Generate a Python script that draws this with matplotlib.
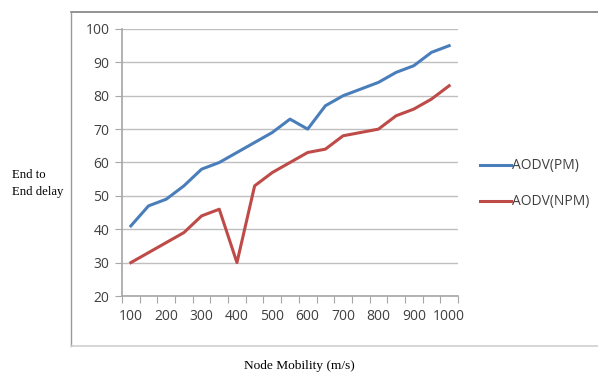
import matplotlib.pyplot as plt
from matplotlib.lines import Line2D

# Node mobility categories (m/s)
mobility = [100, 150, 200, 250, 300, 350, 400, 450, 500, 550,
            600, 650, 700, 750, 800, 850, 900, 950, 1000]
delay_pm = [41, 47, 49, 53, 58, 60, 63, 66, 69, 73,
            70, 77, 80, 82, 84, 87, 89, 93, 95]
delay_npm = [30, 33, 36, 39, 44, 46, 30, 53, 57, 60,
             63, 64, 68, 69, 70, 74, 76, 79, 83]
tick_labels = ["100", "200", "300", "400", "500", "600", "700", "800", "900", "1000"]

W, H = 598, 373
fig = plt.figure(figsize=(W / 100, H / 100), dpi=100)
fig.patch.set_facecolor("white")


def fline(x0, y0, x1, y1, color, lw):
    # line in pixel coords (origin top-left)
    fig.add_artist(Line2D([x0 / W, x1 / W], [1 - y0 / H, 1 - y1 / H],
                          transform=fig.transFigure, color=color, linewidth=lw))


# outer chart frame (no right edge visible)
fline(70.5, 11.5, 598, 11.5, "#808080", 1.2)
fline(70.5, 11.5, 70.5, 346, "#9a9a9a", 1.0)
fline(70.5, 346, 598, 346, "#d0d0d0", 1.2)

ax = fig.add_axes([122 / W, 1 - 296 / H, (458 - 122) / W, (296 - 29) / H])
x = list(range(len(mobility)))
ax.plot(x, delay_pm, color="#4a7ebb", linewidth=2.2, label="AODV(PM)")
ax.plot(x, delay_npm, color="#be4b48", linewidth=2.2, label="AODV(NPM)")

ax.set_xlim(-0.5, len(mobility) - 0.5)
ax.set_ylim(20, 100)
ax.set_yticks(range(20, 101, 10))
ax.yaxis.grid(True, color="#bfbfbf", linewidth=1.0)
ax.set_axisbelow(True)

# category axis: ticks between categories, labels on every other point
ax.set_xticks([i - 0.5 for i in range(len(mobility) + 1)])
ax.set_xticklabels([])
ax.set_xticks(x[::2], minor=True)
ax.set_xticklabels(tick_labels, minor=True)
ax.tick_params(axis="x", which="minor", length=0, pad=9)
ax.tick_params(axis="x", which="major", length=5, color="#a6a6a6", direction="out")
ax.tick_params(axis="y", length=5, color="#a6a6a6", pad=4)
for lab in ax.get_xticklabels(minor=True) + ax.get_yticklabels():
    lab.set_fontsize(10)
    lab.set_color("#404040")
    lab.set_family("Open Sans")

for s in ["top", "right"]:
    ax.spines[s].set_visible(False)
for s in ["left", "bottom"]:
    ax.spines[s].set_color("#a6a6a6")
    ax.spines[s].set_linewidth(1.2)

# legend
for ly, lab, col in [(165, "AODV(PM)", "#4a7ebb"), (201, "AODV(NPM)", "#be4b48")]:
    fline(480, ly, 511, ly, col, 2.2)
    fig.text(512 / W, 1 - ly / H, lab, fontsize=10, color="#404040",
             family="Open Sans", va="center", ha="left")

fig.text(12 / W, 1 - 175 / H, "End to", fontsize=9.2, family="Liberation Serif",
         va="center", ha="left")
fig.text(12 / W, 1 - 192 / H, "End delay", fontsize=9.2, family="Liberation Serif",
         va="center", ha="left")
fig.text(299 / W, 1 - 366 / H, "Node Mobility (m/s)", fontsize=9.6,
         family="Liberation Serif", va="center", ha="center")

fig.savefig("out.png", dpi=100)
